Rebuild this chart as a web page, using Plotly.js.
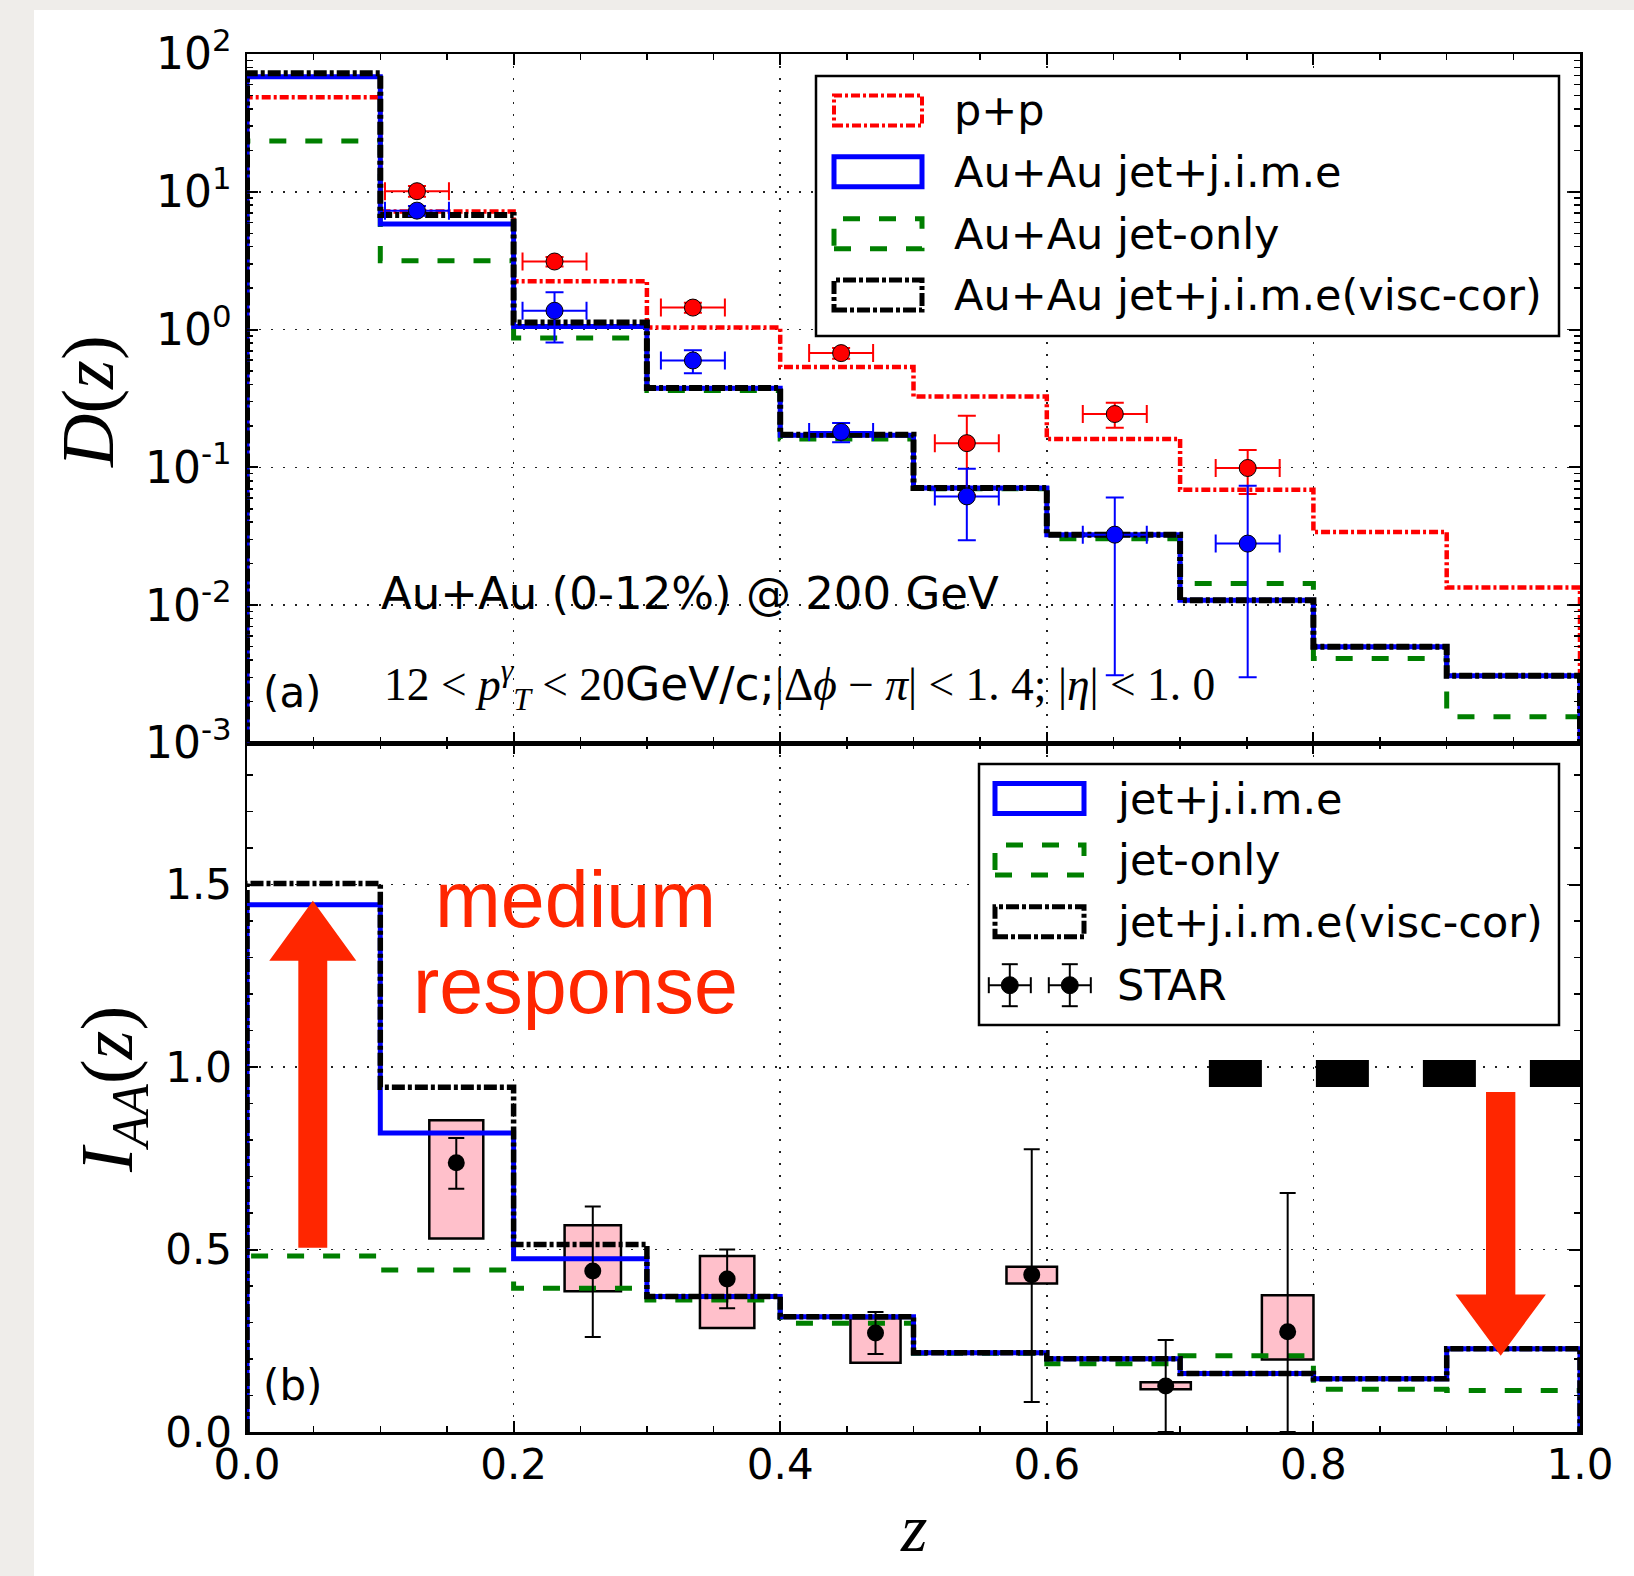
<!DOCTYPE html>
<html>
<head>
<meta charset="utf-8">
<script src="https://cdn.plot.ly/plotly-3.0.1.min.js"></script>
<style>html,body{margin:0;padding:0;background:#efedea;}</style>
</head>
<body>
<div id="chart" style="width:1634px;height:1576px;"></div>
<script>
// ---------------- data ----------------
const zEdges = [0, 0.1, 0.2, 0.3, 0.4, 0.5, 0.6, 0.7, 0.8, 0.9, 1.0];

// (a) D(z) histograms
const ppD      = [48.5, 7.2, 2.24, 1.036, 0.535, 0.327, 0.161, 0.0689, 0.034, 0.01343];
const jimeD    = [68.5, 5.85, 1.053, 0.375, 0.171, 0.071, 0.0325, 0.01087, 0.005, 0.00307];
const jetOnlyD = [23.4, 3.16, 0.868, 0.362, 0.161, 0.070, 0.0303, 0.01436, 0.0041, 0.00155];
const viscD    = [72.4, 6.8, 1.126, 0.377, 0.1725, 0.071, 0.0325, 0.01087, 0.005, 0.00307];

// (a) STAR data points
const starZ      = [0.1275, 0.2307, 0.3345, 0.4457, 0.54, 0.651, 0.7507];
const starZerr   = [0.024, 0.024, 0.024, 0.024, 0.024, 0.024, 0.024];
const starPP     = [10.1, 3.12, 1.445, 0.675, 0.150, 0.244, 0.099];
const starPPerr  = [0.9, 0.25, 0.12, 0.06, 0.087, 0.05, 0.035];
const starAA     = [7.3, 1.37, 0.597, 0.181, 0.0616, 0.0325, 0.028];
const starAAup   = [0.6, 0.5, 0.11, 0.029, 0.036, 0.028, 0.0456];
const starAAdown = [0.6, 0.565, 0.114, 0.029, 0.032, 0.0294, 0.025];

// (b) I_AA histograms
const jimeI    = [1.445, 0.819, 0.475, 0.371, 0.316, 0.217, 0.201, 0.160, 0.146, 0.228];
const viscI    = [1.503, 0.945, 0.514, 0.371, 0.316, 0.217, 0.201, 0.160, 0.146, 0.228];
const jetOnlyI = [0.482, 0.444, 0.394, 0.362, 0.298, 0.216, 0.187, 0.209, 0.117, 0.114];

// (b) STAR I_AA
const iaaZ      = [0.157, 0.2594, 0.3602, 0.4715, 0.5887, 0.6892, 0.7807];
const iaaVal    = [0.7376, 0.441, 0.419, 0.271, 0.431, 0.126, 0.275];
const iaaUp     = [0.068, 0.177, 0.081, 0.058, 0.344, 0.126, 0.38];
const iaaDown   = [0.071, 0.181, 0.080, 0.057, 0.349, 0.126, 0.275];
const iaaSysLo  = [0.530, 0.3855, 0.285, 0.190, 0.407, 0.117, 0.199];
const iaaSysHi  = [0.854, 0.5665, 0.482, 0.3115, 0.453, 0.136, 0.3745];
const iaaSysW   = [0.0405, 0.0423, 0.0408, 0.0376, 0.0379, 0.0377, 0.0387];

// tick labels
const xTickVals = [0, 0.2, 0.4, 0.6, 0.8, 1.0];
const xTickText = ['0.0', '0.2', '0.4', '0.6', '0.8', '1.0'];
const dTickVals = [0.001, 0.01, 0.1, 1, 10, 100];
const dTickText = ['10<sup>-3</sup>', '10<sup>-2</sup>', '10<sup>-1</sup>', '10<sup>0</sup>', '10<sup>1</sup>', '10<sup>2</sup>'];
const iTickVals = [0, 0.5, 1.0, 1.5];
const iTickText = ['0.0', '0.5', '1.0', '1.5'];

// ---------------- helpers ----------------
function stepXY(vals, floor) {
  const x = [0], y = [floor];
  for (let i = 0; i < vals.length; i++) { x.push(zEdges[i]); y.push(vals[i]); }
  x.push(zEdges[zEdges.length - 1]); y.push(vals[vals.length - 1]);
  x.push(zEdges[zEdges.length - 1]); y.push(floor);
  return {x, y};
}
const RED = '#ff0000', BLUE = '#0000ff', GREEN = '#007f00', BLACK = '#000000';
const DASHDOT = '9px,3px,3px,3px';
const DASHDOT_K = '13px,3px,4px,3px';
const DASHED = '17px,19px';

function stepTrace(vals, floor, xa, ya, color, width, dash) {
  const s = stepXY(vals, floor);
  return {x: s.x, y: s.y, xaxis: xa, yaxis: ya, type: 'scatter', mode: 'lines',
          line: {shape: 'hv', color: color, width: width, dash: dash, simplify: false},
          hoverinfo: 'skip', showlegend: false};
}

const traces = [
  stepTrace(ppD, 1e-5, 'x2', 'y2', RED, 4.5, DASHDOT),
  stepTrace(jetOnlyD, 1e-5, 'x2', 'y2', GREEN, 5, DASHED),
  stepTrace(jimeD, 1e-5, 'x2', 'y2', BLUE, 5, 'solid'),
  stepTrace(viscD, 1e-5, 'x2', 'y2', BLACK, 6, DASHDOT_K),
  {x: starZ, y: starPP, xaxis: 'x2', yaxis: 'y2', type: 'scatter', mode: 'markers',
   marker: {symbol: 'circle', size: 17, color: RED, line: {color: '#000', width: 1}},
   error_x: {type: 'data', array: starZerr, color: RED, thickness: 2, width: 9},
   error_y: {type: 'data', array: starPPerr, color: RED, thickness: 2, width: 9},
   showlegend: false},
  {x: starZ, y: starAA, xaxis: 'x2', yaxis: 'y2', type: 'scatter', mode: 'markers',
   marker: {symbol: 'circle', size: 17, color: BLUE, line: {color: '#000', width: 1}},
   error_x: {type: 'data', array: starZerr, color: BLUE, thickness: 2, width: 9},
   error_y: {type: 'data', symmetric: false, array: starAAup, arrayminus: starAAdown, color: BLUE, thickness: 2, width: 9},
   showlegend: false},
  // (b)
  {x: iaaZ, base: iaaSysLo, y: iaaSysHi.map((h, i) => h - iaaSysLo[i]), width: iaaSysW,
   xaxis: 'x', yaxis: 'y', type: 'bar',
   marker: {color: '#ffc0cb', line: {color: '#000', width: 2.5}}, showlegend: false, hoverinfo: 'skip'},
  stepTrace(jetOnlyI, 0, 'x', 'y', GREEN, 5, DASHED),
  stepTrace(jimeI, 0, 'x', 'y', BLUE, 5, 'solid'),
  stepTrace(viscI, 0, 'x', 'y', BLACK, 5.5, DASHDOT_K),
  {x: iaaZ, y: iaaVal, xaxis: 'x', yaxis: 'y', type: 'scatter', mode: 'markers',
   marker: {symbol: 'circle', size: 17, color: '#000'},
   error_y: {type: 'data', symmetric: false, array: iaaUp, arrayminus: iaaDown, color: '#000', thickness: 2, width: 8},
   showlegend: false}
];

// ---------------- layout geometry (pixels -> paper) ----------------
const ML = 247, MR = 54, MT = 54, MB = 144, W = 1634, H = 1576;
const PW = W - ML - MR, PH = H - MT - MB;
const px = v => (v - ML) / PW;
const py = v => (H - MB - v) / PH;

const TICKFONT = {family: 'DejaVu Sans', size: 42, color: '#000'};
const gridCommon = {showgrid: true, gridcolor: '#222', gridwidth: 1.5, griddash: '2px,10px',
  zeroline: false, showline: true, linecolor: '#000', linewidth: 2.5, mirror: 'allticks',
  ticks: 'inside', ticklen: 11, tickwidth: 2, tickcolor: '#000', tickfont: TICKFONT};

const shapes = [];
const annotations = [];

// white figure area over textured background
shapes.push({type: 'rect', xref: 'paper', yref: 'paper', layer: 'below',
  x0: px(34), x1: px(1640), y0: py(1590), y1: py(10), fillcolor: '#ffffff', line: {width: 0}});

// arrows and dashed line in panel (b)
shapes.push({type: 'path', xref: 'x', yref: 'y', fillcolor: '#ff2600', line: {width: 0},
  path: 'M 0.0385 0.505 L 0.0602 0.505 L 0.0602 1.291 L 0.082 1.291 L 0.0494 1.456 L 0.0167 1.291 L 0.0385 1.291 Z'});
shapes.push({type: 'path', xref: 'x', yref: 'y', fillcolor: '#ff2600', line: {width: 0},
  path: 'M 0.9295 0.932 L 0.9515 0.932 L 0.9515 0.377 L 0.9744 0.377 L 0.9405 0.209 L 0.9066 0.377 L 0.9295 0.377 Z'});
shapes.push({type: 'line', xref: 'x', yref: 'y', x0: 0.7216, x1: 1.0, y0: 0.9825, y1: 0.9825,
  line: {color: '#000', width: 27, dash: '53px,54px'}});

// custom legends
function rectHandle(x0, x1, cy, color, width, dash) {
  shapes.push({type: 'rect', xref: 'paper', yref: 'paper', x0: px(x0), x1: px(x1),
    y0: py(cy + 15), y1: py(cy - 15), fillcolor: 'rgba(0,0,0,0)',
    line: {color: color, width: width, dash: dash}});
}
function legText(x, cy, text) {
  annotations.push({xref: 'paper', yref: 'paper', x: px(x), y: py(cy), xanchor: 'left', yanchor: 'middle',
    text: text, showarrow: false, borderpad: 0, font: {family: 'DejaVu Sans', size: 43, color: '#000'}});
}
// upper legend
shapes.push({type: 'rect', xref: 'paper', yref: 'paper', x0: px(816), x1: px(1559), y0: py(336), y1: py(76),
  fillcolor: '#ffffff', line: {color: '#000', width: 2.5}});
const upLeg = [
  {cy: 110.4, c: RED, w: 4, d: DASHDOT, t: 'p+p'},
  {cy: 171.7, c: BLUE, w: 5, d: 'solid', t: 'Au+Au jet+j.i.m.e'},
  {cy: 233.8, c: GREEN, w: 5, d: DASHED, t: 'Au+Au jet-only'},
  {cy: 294.9, c: BLACK, w: 5, d: DASHDOT_K, t: 'Au+Au jet+j.i.m.e(visc-cor)'}
];
upLeg.forEach(e => { rectHandle(834, 922, e.cy, e.c, e.w, e.d); legText(953, e.cy, e.t); });

// lower legend
shapes.push({type: 'rect', xref: 'paper', yref: 'paper', x0: px(979), x1: px(1559), y0: py(1025), y1: py(764),
  fillcolor: '#ffffff', line: {color: '#000', width: 2.5}});
const loLeg = [
  {cy: 798.6, c: BLUE, w: 5, d: 'solid', t: 'jet+j.i.m.e'},
  {cy: 860.0, c: GREEN, w: 5, d: DASHED, t: 'jet-only'},
  {cy: 921.8, c: BLACK, w: 5, d: DASHDOT_K, t: 'jet+j.i.m.e(visc-cor)'}
];
loLeg.forEach(e => { rectHandle(995, 1084, e.cy, e.c, e.w, e.d); legText(1116, e.cy, e.t); });
// STAR symbol
[1009.8, 1069.8].forEach(cx => {
  const cy = 985.2;
  const L = (x0, y0, x1, y1) => shapes.push({type: 'line', xref: 'paper', yref: 'paper',
    x0: px(x0), x1: px(x1), y0: py(y0), y1: py(y1), line: {color: '#000', width: 2}});
  L(cx - 21, cy, cx + 21, cy);
  L(cx, cy - 21, cx, cy + 21);
  L(cx - 8, cy - 21, cx + 8, cy - 21);
  L(cx - 8, cy + 21, cx + 8, cy + 21);
  L(cx - 21, cy - 8, cx - 21, cy + 8);
  L(cx + 21, cy - 8, cx + 21, cy + 8);
  shapes.push({type: 'circle', xref: 'paper', yref: 'paper', x0: px(cx - 8.5), x1: px(cx + 8.5), y0: py(cy + 8.5), y1: py(cy - 8.5), fillcolor: '#000', line: {color: '#000', width: 1}});
});
legText(1116, 985.2, 'STAR');

// ---------------- text annotations ----------------
const SERIF = 'Liberation Serif';
annotations.push({xref: 'paper', yref: 'paper', x: px(88), y: py(402), textangle: -90, showarrow: false,
  xanchor: 'center', yanchor: 'middle', text: '<i>D</i>(<i>z</i>)', font: {family: SERIF, size: 74, color: '#000'}});
annotations.push({xref: 'paper', yref: 'paper', x: px(112), y: py(1090), textangle: -90, showarrow: false,
  xanchor: 'center', yanchor: 'middle', text: '<i>I</i><sub><i>AA</i></sub>(<i>z</i>)', font: {family: SERIF, size: 74, color: '#000'}});
annotations.push({xref: 'paper', yref: 'paper', x: px(913), y: py(1528), showarrow: false,
  xanchor: 'center', yanchor: 'middle', text: '<i>z</i>', font: {family: SERIF, size: 68, color: '#000'}});

annotations.push({xref: 'x2', yref: 'y2', x: 0.1, y: -1.916, xanchor: 'left', yanchor: 'middle', showarrow: false, borderpad: 0,
  text: 'Au+Au (0-12%) @ 200 GeV', font: {family: 'DejaVu Sans', size: 45, color: '#000'}});
annotations.push({xref: 'x2', yref: 'y2', x: 0.1022, y: -2.582, xanchor: 'left', yanchor: 'middle', showarrow: false, borderpad: 0,
  text: '12 &lt; <i>p</i><sup><i>γ</i></sup><sub><i>T</i></sub> &lt; 20<span style="font-family:\'DejaVu Sans\'">GeV/c;</span>|Δ<i>ϕ</i> − <i>π</i>| &lt; 1. 4; |<i>η</i>| &lt; 1. 0',
  font: {family: SERIF, size: 45.5, color: '#000'}});
annotations.push({xref: 'x2', yref: 'y2', x: 0.011, y: -2.637, xanchor: 'left', yanchor: 'middle', showarrow: false, borderpad: 0,
  text: '(a)', font: {family: 'DejaVu Sans', size: 42, color: '#000'}});
annotations.push({xref: 'x', yref: 'y', x: 0.011, y: 0.1275, xanchor: 'left', yanchor: 'middle', showarrow: false, borderpad: 0,
  text: '(b)', font: {family: 'DejaVu Sans', size: 42, color: '#000'}});
annotations.push({xref: 'x', yref: 'y', x: 0.2462, y: 1.459, xanchor: 'center', yanchor: 'middle', showarrow: false, borderpad: 0,
  text: 'medium', font: {family: 'Liberation Sans', size: 79, color: '#ff2600'}});
annotations.push({xref: 'x', yref: 'y', x: 0.2462, y: 1.224, xanchor: 'center', yanchor: 'middle', showarrow: false, borderpad: 0,
  text: 'response', font: {family: 'Liberation Sans', size: 79, color: '#ff2600'}});

const layout = {
  width: W, height: H,
  margin: {l: ML, r: MR, t: MT, b: MB, pad: 0},
  paper_bgcolor: '#efedea', plot_bgcolor: '#ffffff',
  showlegend: false, bargap: 0,
  xaxis: Object.assign({}, gridCommon, {anchor: 'y', domain: [0, 1], range: [0, 1],
    tickmode: 'array', tickvals: xTickVals, ticktext: xTickText, ticklabelstandoff: -6,
    minor: {ticks: 'inside', ticklen: 6, tickwidth: 1.5, tickcolor: '#000', dtick: 0.05, showgrid: false}}),
  xaxis2: Object.assign({}, gridCommon, {anchor: 'y2', domain: [0, 1], range: [0, 1], matches: 'x',
    tickmode: 'array', tickvals: xTickVals, ticktext: xTickText, showticklabels: false,
    minor: {ticks: 'inside', ticklen: 6, tickwidth: 1.5, tickcolor: '#000', dtick: 0.05, showgrid: false}}),
  yaxis: Object.assign({}, gridCommon, {anchor: 'x', domain: [0, 0.5], range: [0, 1.888],
    tickmode: 'array', tickvals: iTickVals, ticktext: iTickText, ticklabelstandoff: 4,
    minor: {ticks: 'inside', ticklen: 6, tickwidth: 1.5, tickcolor: '#000', dtick: 0.1, showgrid: false}}),
  yaxis2: Object.assign({}, gridCommon, {anchor: 'x2', domain: [0.5, 1], type: 'log', range: [-3, 2],
    tickmode: 'array', tickvals: dTickVals, ticktext: dTickText, ticklabelstandoff: 4,
    tickfont: {family: 'DejaVu Sans', size: 44, color: '#000'},
    minor: {ticks: 'inside', ticklen: 6, tickwidth: 1.5, tickcolor: '#000', dtick: 'D1', showgrid: false}}),
  shapes: shapes,
  annotations: annotations
};

Plotly.newPlot('chart', traces, layout, {displayModeBar: false, staticPlot: true});
</script>
</body>
</html>
